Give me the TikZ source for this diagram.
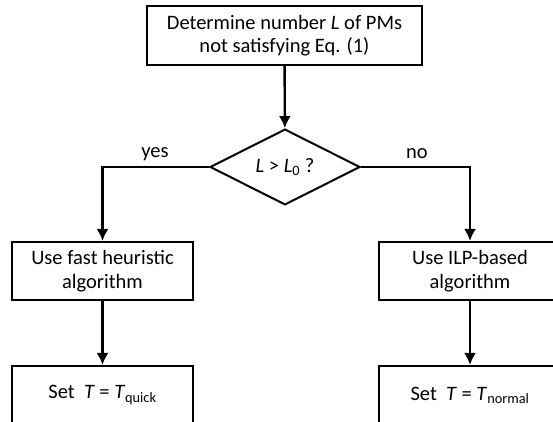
\documentclass[tikz,border=0pt]{standalone}
\usepackage{fontspec}
\setmainfont{Carlito}
\usetikzlibrary{shapes.geometric,arrows.meta}

\begin{document}
\begin{tikzpicture}[x=1pt,y=1pt]
			\tikzstyle{box} = [draw, line width=2pt, align=center, font=\fontsize{20.5}{23.5}\selectfont, inner sep=0pt]
			\tikzstyle{decision} = [diamond, draw, line width=2pt, minimum width=150pt, minimum height=72pt, inner sep=0pt, font=\fontsize{20.5}{23.5}\selectfont]
			\tikzstyle{answer} = [font=\fontsize{20.5}{23.5}\selectfont]
			\tikzset{edge/.style = {line width=2.4pt, -{Latex[length=12pt,width=12pt]}}}
			
			\useasboundingbox (0,0) rectangle (553,422);
			
			\node[box, minimum width=275pt, minimum height=59pt](det) at (284.5,386.5) {Determine number \textit{L} of PMs\\not satisfying Eq. (1)};
			\node[decision](cond) at (285,255) {\textit{L} > \textit{L}\textsubscript{0} ?};
			\draw[edge](det) to (cond);
			
			\node[box, minimum width=181pt, minimum height=58pt](fast) at (102.5,151) {Use fast heuristic\\algorithm};
			\node[box, minimum width=182pt, minimum height=58pt](ilp) at (470,151) {Use ILP-based\\algorithm};
			\draw[edge](cond.west) -| (fast.north);
			\draw[edge](cond.east) -| (ilp.north);
			
			\node[answer](yes) at (155,268) {yes};
			\node[answer](no) at (417,268) {no};
			
			\node[box, minimum width=181pt, minimum height=58pt](quick) at (102.5,27) {Set\ \ \textit{T} = \textit{T}\textsubscript{quick}};
			\node[box, minimum width=182pt, minimum height=58pt](normal) at (470,27) {Set\ \ \textit{T} = \textit{T}\textsubscript{normal}};
			\draw[edge](fast) to (quick);
			\draw[edge](ilp) to (normal);
			
			\end{tikzpicture}
\end{document}
